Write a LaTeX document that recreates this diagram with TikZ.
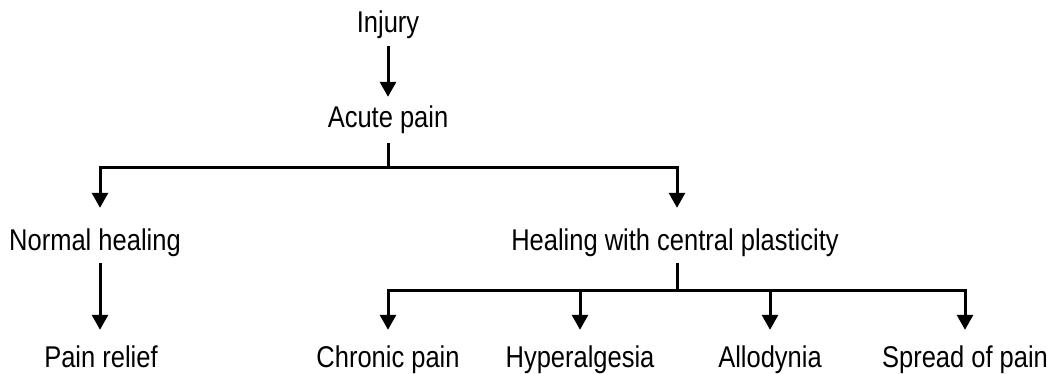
\documentclass[tikz,border=0pt]{standalone}
\usepackage{fontspec}
\setmainfont{Liberation Sans}[FakeStretch=0.85]
\usetikzlibrary{arrows.meta}
\begin{document}
\begin{tikzpicture}[x=1pt,y=-1pt,
  lbl/.style={inner sep=0pt, anchor=base, text height=22pt, text depth=6pt,
    font=\fontsize{30}{36}\selectfont},
  ln/.style={line width=3pt},
  arr/.style={line width=3pt, -{Triangle[width=16pt,length=15pt]}}]
\useasboundingbox (0,0) rectangle (1047,374);
\node[lbl] (inj) at (388,33) {Injury};
\node[lbl] (acute) at (388,128) {Acute pain};
\node[lbl] (nh) at (95,251) {Normal healing};
\node[lbl] (hcp) at (675,251) {Healing with central plasticity};
\node[lbl] (relief) at (101,367) {Pain relief};
\node[lbl] (cp) at (388,367) {Chronic pain};
\node[lbl] (hyp) at (580,367) {Hyperalgesia};
\node[lbl] (allo) at (770,367) {Allodynia};
\node[lbl] (spread) at (965,367) {Spread of pain};
\coordinate (b1) at (388,168);
\coordinate (hl) at (100,168);
\coordinate (hr) at (677,168);
\coordinate (b2) at (677,290);
% top arrow
\draw[arr, shorten <=7pt, shorten >=9pt] (inj.south) -- (acute.north);
% first branch
\draw[ln, shorten <=9pt] (acute.south) -- (b1);
\draw[arr, shorten >=21pt] (b1) -| (hl |- nh.north);
\draw[arr, shorten >=21pt] (b1) -| (hr |- hcp.north);
% normal healing
\draw[arr, shorten >=15pt] (hl |- nh.south) ++(0,6) -- (hl |- relief.north);
% second branch
\draw[ln] (b2 |- hcp.south) ++(0,6) -- (b2);
\draw[arr, shorten >=15pt] (b2) -| (cp.north);
\draw[arr, shorten >=15pt] (b2) -| (hyp.north);
\draw[arr, shorten >=15pt] (b2) -| (allo.north);
\draw[arr, shorten >=15pt] (b2) -| (spread.north);
\end{tikzpicture}
\end{document}
